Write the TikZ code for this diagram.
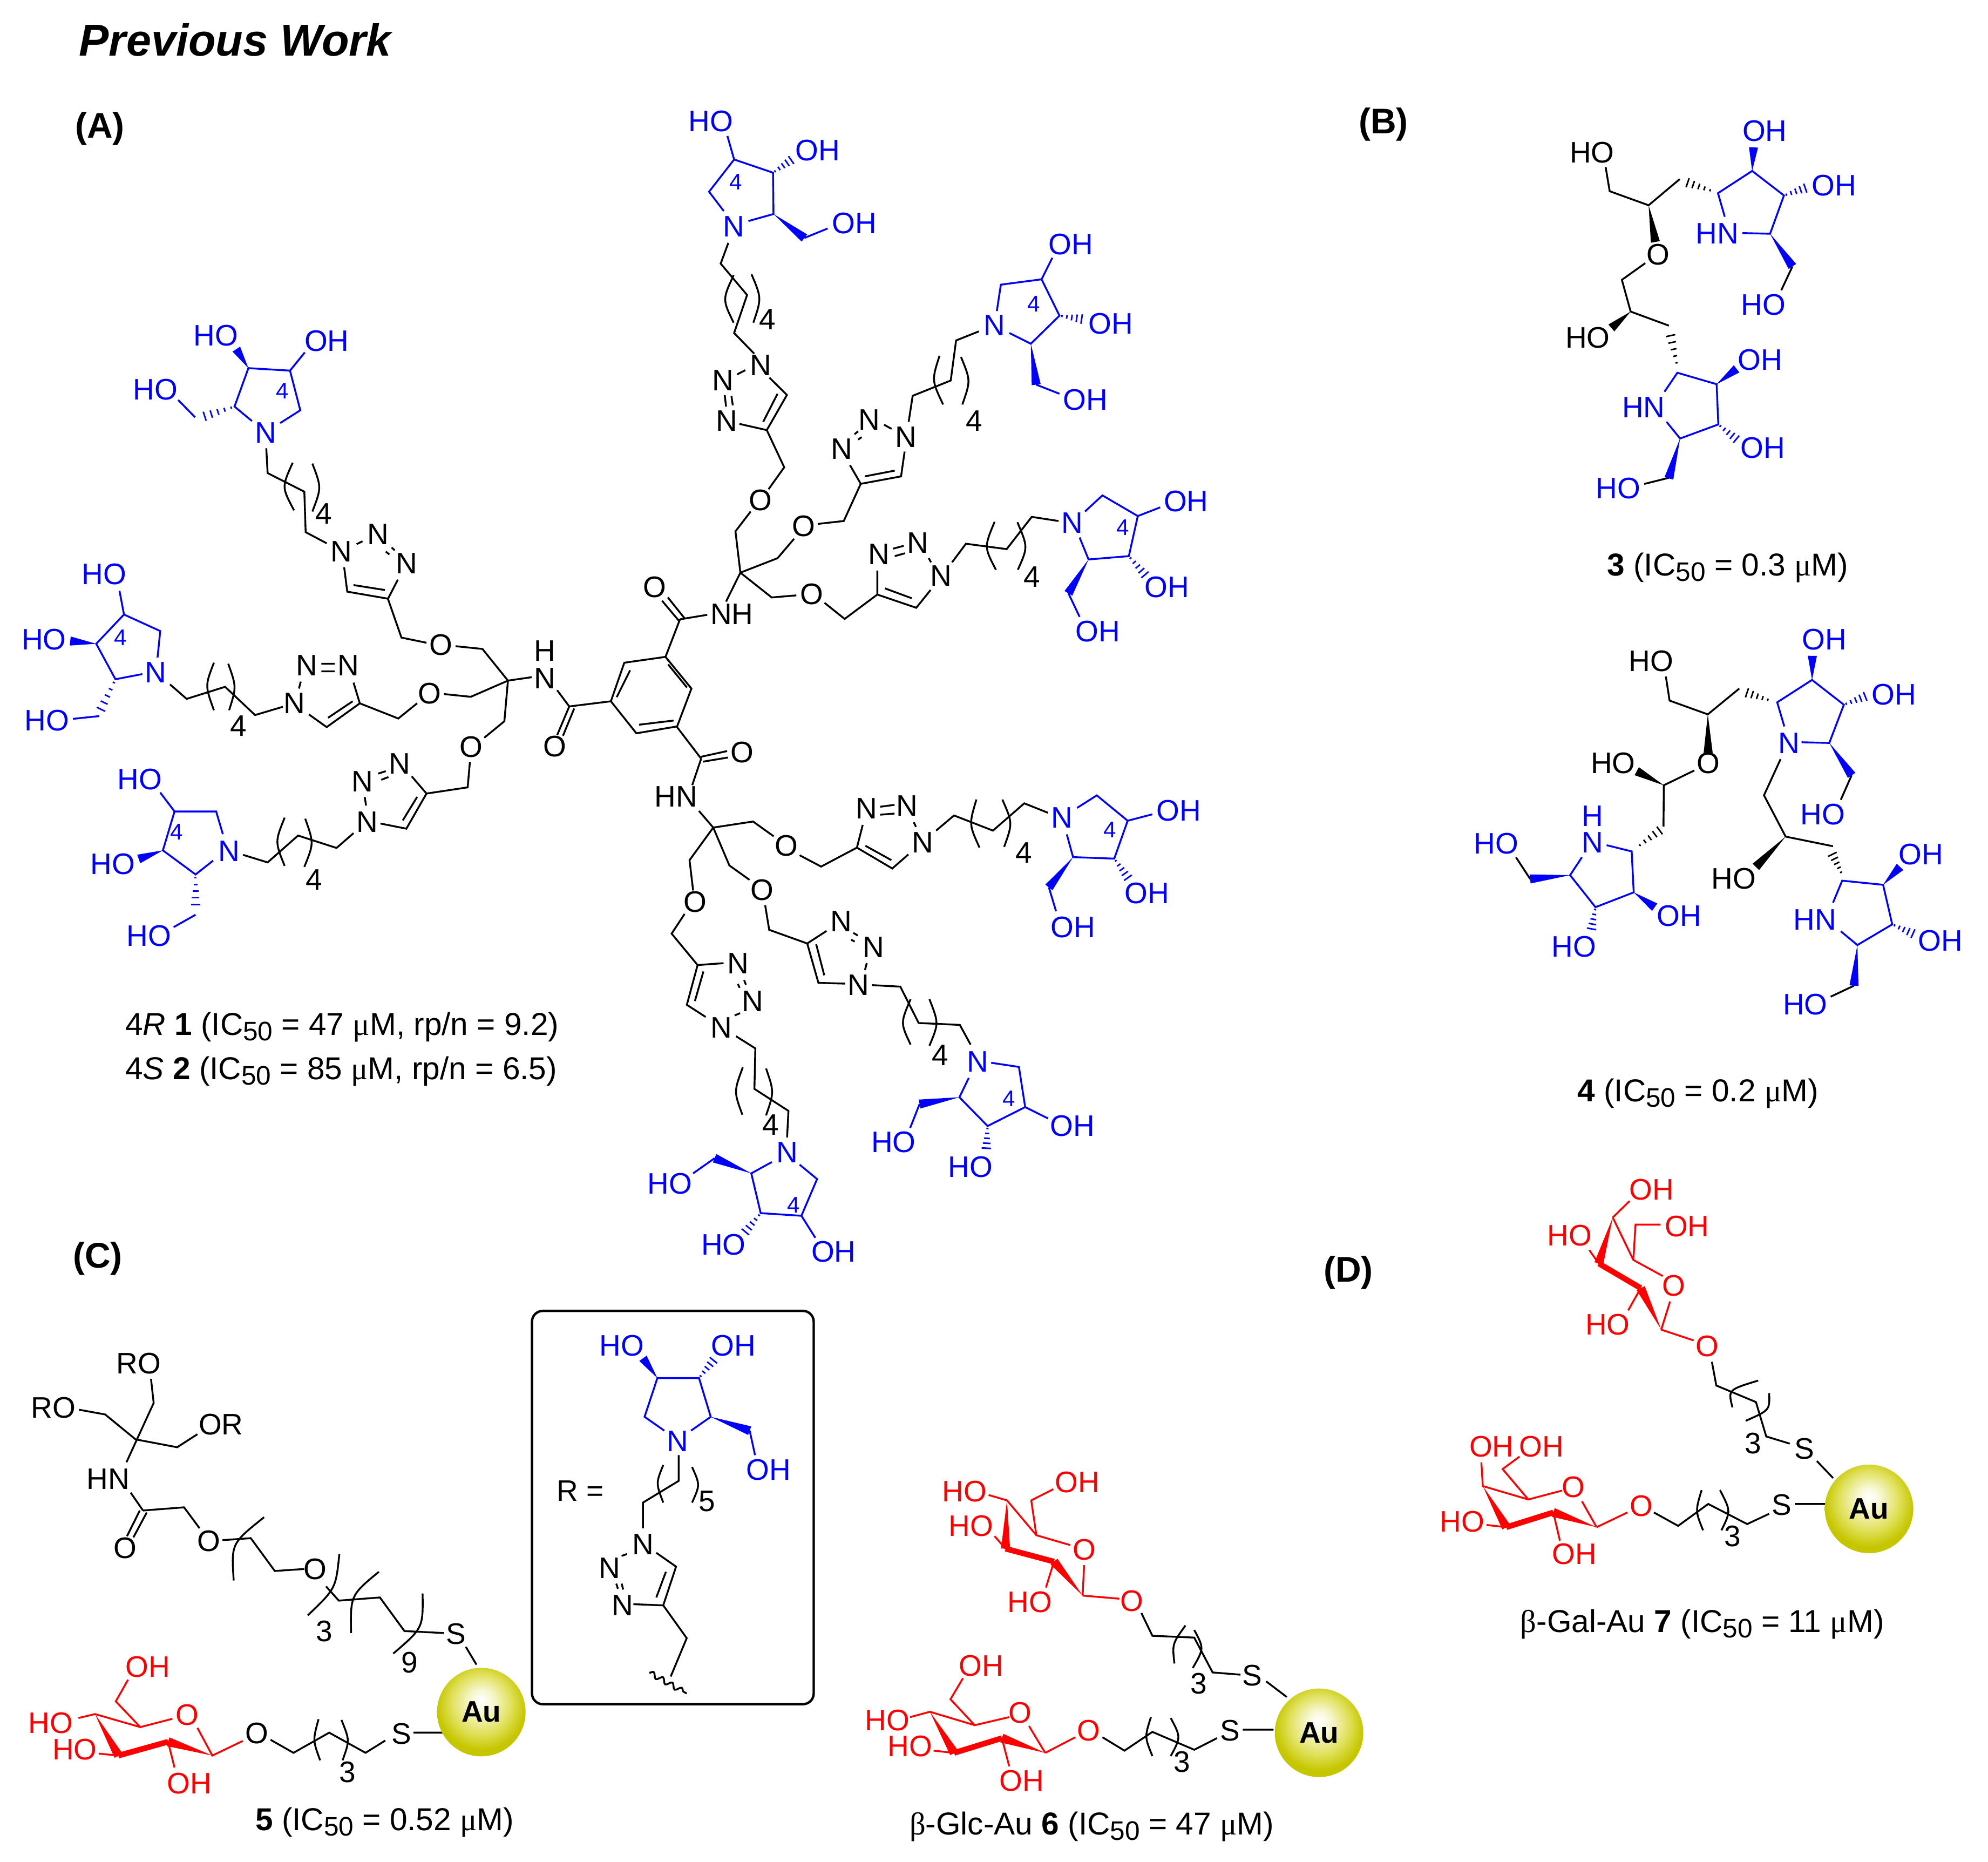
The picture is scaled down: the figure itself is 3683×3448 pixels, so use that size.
\documentclass[tikz,border=0pt]{standalone}
\usepackage{fontspec}
\setmainfont{Liberation Sans}
\newfontfamily\symf{Liberation Serif}
\usetikzlibrary{calc,decorations.pathmorphing}
\definecolor{mblue}{RGB}{0,0,255}
\definecolor{mred}{RGB}{255,0,0}
\definecolor{auO}{RGB}{198,198,0}
\definecolor{auM}{RGB}{224,224,90}
\definecolor{auL}{RGB}{248,248,215}
\pgfdeclareradialshading{aus}{\pgfpoint{0bp}{7bp}}{color(0bp)=(white);color(6bp)=(auL);color(17bp)=(auM);color(25bp)=(auO);color(50bp)=(auO)}
\newcounter{lb}
\newcommand\lab[2]{\stepcounter{lb}\node[atom] (n\arabic{lb}) at #1 {#2};}
\newcommand\sml[2]{\stepcounter{lb}\node[atom,font=\fontsize{10.5pt}{11pt}\selectfont] (n\arabic{lb}) at #1 {#2};}
\newcommand\wdg[2]{\fill ($#2!2.1pt!90:#1$) -- #1 -- ($#2!2.1pt!-90:#1$) -- cycle;}
\newcommand\hsh[2]{\foreach \t in {0.1,0.3,0.5,0.7,0.9}{\pgfmathsetmacro\hl{\t*2.1+0.3}\path #1 -- #2 coordinate[pos=\t] (hp);\draw[line width=.7pt] ($(hp)!\hl pt!90:#2$) -- ($(hp)!\hl pt!-90:#2$);}}
\newcommand\prn[3]{\draw #1 .. controls ($#1!.5!#3!.6!#2$) .. #3;}
\newcommand\prnb[3]{\draw #1 .. controls ($#1!.5!#3!.8!#2$) .. #3;}
\newcommand\icf{IC\raisebox{-.32ex}{\fontsize{12.4pt}{13pt}\selectfont 50}}
\newcommand\um{{\symf μ}M}
\tikzset{
 atom/.style={inner sep=0pt,font=\fontsize{13.75pt}{15pt}\selectfont},
 capt/.style={inner sep=0pt,anchor=base west,font=\fontsize{14.65pt}{16pt}\selectfont},
 hdr/.style={inner sep=0pt,font=\fontsize{16.5pt}{18pt}\selectfont\bfseries},
 aub/.style={circle,inner sep=0pt,minimum size=41pt,shading=aus,font=\fontsize{13.75pt}{15pt}\selectfont\bfseries},
 fat/.style={line width=2.6pt},
 zA/.style={shift={(0,0)},x=.20727pt,y=-.19133pt},
 zB/.style={shift={(1200,150)},x=.20727pt,y=-.19133pt},
 zC/.style={shift={(0,1100)},x=.20727pt,y=-.15944pt},
 zD/.style={shift={(1100,1300)},x=.20727pt,y=-.17538pt},
 zE/.style={shift={(2700,150)},x=.15673pt,y=-.15147pt},
 zF/.style={shift={(2700,1100)},x=.15673pt,y=-.15944pt},
 zG/.style={shift={(0,2300)},x=.24713pt,y=-.18304pt},
 zH/.style={shift={(1550,2150)},x=.34008pt,y=-.20695pt},
}
\begin{document}
\begin{tikzpicture}[x=.25pt,y=-.25pt,line width=.85pt]
\useasboundingbox (0,0) rectangle (3683,3448);
\node[inner sep=0pt,anchor=base west,font=\fontsize{20.7pt}{24pt}\selectfont\bfseries\itshape] (title) at (145,103) {Previous Work};
\node[hdr] (hA) at (185,238) {(A)};
\node[hdr] (hB) at (2563,230) {(B)};
\node[hdr] (hC) at (181,2331) {(C)};
\node[hdr] (hD) at (2498,2357) {(D)};
% ---------- arm 1, upper left
\begin{scope}[zA,mblue]
\lab{(482,812)}{HO}\lab{(730,825)}{OH}\lab{(347,943)}{HO}\sml{(631,946)}{4}\lab{(594,1048)}{N}
\draw (563,1019)--(524,984)--(555,891)--(648,897)--(671,993)--(626,1024);
\wdg{(555,891)}{(528,845)}
\draw (648,897)--(681,853);
\hsh{(524,984)}{(450,1010)}
\draw (436,1010)--(398,968);
\lab{(233,1390)}{HO}
\draw (267,1430)--(277,1487);
\end{scope}
\begin{scope}[zA]
\draw (595,1085)--(598,1145)--(680,1190)--(683,1288)--(730,1315);
\prn{(654,1120)}{(612,1180)}{(657,1235)}\prn{(698,1122)}{(732,1180)}{(698,1238)}
\lab{(724,1243)}{4}\lab{(763,1335)}{N}\lab{(845,1293)}{N}\lab{(909,1363)}{N}
\draw (797,1317)--(810,1310) (875,1325)--(882,1332) (862,1335)--(870,1342);
\draw (889,1403)--(867,1449)--(776,1432)--(769,1373) (860,1428)--(790,1416);
\end{scope}
% ---------- core
\begin{scope}[zC]
\draw (867,15)--(897,127)--(953,142);\lab{(985,148)}{O}
\draw (1018,152)--(1078,160)--(1135,252);
\lab{(1218,165)}{H}\lab{(1218,245)}{N}
\draw (1135,252)--(1188,242) (1245,280)--(1272,327)--(1365,312);
\draw (1272,327)--(1245,410) (1283,333)--(1258,412);\lab{(1240,443)}{O}
\draw (1365,312)--(1395,200)--(1487,183)--(1545,275)--(1513,385)--(1422,405)--cycle;
\draw (1378,300)--(1408,222) (1493,205)--(1535,272) (1505,368)--(1428,380);
% middle left arm
\draw (1135,252)--(1052,299)--(992,291);\lab{(960,289)}{O}
\draw (932,318)--(890,362)--(804,318)--(730,387)--(690,350) (788,312)--(733,360);
\lab{(658,318)}{N}\lab{(685,208)}{N}\lab{(778,208)}{N}
\draw (668,275)--(672,255) (718,203)--(748,203) (718,225)--(748,225) (790,258)--(804,318);
\draw (632,328)--(570,352)--(503,270)--(417,305)--(380,263);
\prn{(478,200)}{(445,265)}{(478,338)}\prn{(510,203)}{(540,270)}{(512,338)}\lab{(533,383)}{4}
% lower left arm
\draw (1135,252)--(1127,370)--(1082,418);\lab{(1053,445)}{O}
\draw (1050,488)--(1045,562)--(953,580)--(908,682)--(850,667) (932,590)--(900,658);
\lab{(820,662)}{N}\lab{(810,545)}{N}\lab{(893,493)}{N}
\draw (815,590)--(818,615) (845,522)--(862,515) (852,540)--(868,532) (920,530)--(953,580);
\draw (790,695)--(752,738)--(666,702)--(598,780)--(543,758);
\prn{(636,650)}{(600,720)}{(636,790)}\prn{(682,653)}{(715,725)}{(680,793)}\lab{(702,830)}{4}
\node[capt] (cap1) at (278,1282) {4\textit{R} \textbf{1} (\icf{} = 47 \um, rp/n = 9.2)};
\node[capt] (cap2) at (278,1410) {4\textit{S} \textbf{2} (\icf{} = 85 \um, rp/n = 6.5)};
\end{scope}
\begin{scope}[zC,mblue]
\lab{(348,228)}{N}\sml{(269,127)}{4}\lab{(98,133)}{HO}\lab{(105,368)}{HO}
\draw (318,233)--(258,248)--(215,145)--(277,60)--(358,108)--(352,185);
\wdg{(215,145)}{(157,137)}
\hsh{(258,248)}{(222,345)}
\draw (222,355)--(163,363);
\lab{(512,748)}{N}\sml{(395,692)}{4}\lab{(312,538)}{HO}\lab{(252,785)}{HO}\lab{(333,993)}{HO}
\draw (498,698)--(483,632)--(390,632)--(364,745)--(437,815)--(476,775) (390,632)--(358,577);
\wdg{(364,745)}{(310,770)}
\hsh{(437,815)}{(437,912)}
\draw (437,932)--(388,968);
\end{scope}
% ---------- upper right arms
\begin{scope}[zB]
\draw (72,1303)--(133,1292) (45,1250)--(82,1300) (32,1258)--(70,1307) (72,1303)--(40,1393);
\lab{(15,1225)}{O}\lab{(188,1290)}{NH}
\draw (207,1190)--(175,1260);
\draw (180,392)--(163,442)--(222,518)--(193,610)--(238,660);
\prn{(192,470)}{(150,530)}{(192,585)}\prn{(232,468)}{(268,525)}{(236,585)}\lab{(267,577)}{4}
\lab{(252,688)}{N}\lab{(168,725)}{N}\lab{(177,823)}{N}
\draw (218,700)--(200,710) (172,760)--(175,788) (187,762)--(190,785);
\draw (205,830)--(266,845)--(311,760)--(272,718) (258,825)--(290,757);
\draw (266,845)--(305,935)--(270,988);\lab{(252,1015)}{O}
\draw (230,1042)--(196,1090)--(207,1190);
\draw (207,1190)--(290,1155)--(327,1108);\lab{(348,1078)}{O}
\draw (380,1072)--(438,1065)--(476,975)--(566,957)--(574,897) (485,957)--(552,943) (476,975)--(452,930);
\lab{(577,862)}{N}\lab{(495,820)}{N}\lab{(433,890)}{N}
\draw (462,855)--(470,848) (470,868)--(478,862) (528,832)--(545,842);
\draw (583,825)--(592,762)--(677,725)--(689,628)--(740,606);
\prn{(652,665)}{(620,725)}{(660,783)}\prn{(700,668)}{(735,725)}{(703,783)}\lab{(729,823)}{4}
\draw (207,1190)--(277,1250)--(332,1245);\lab{(367,1242)}{O}
\draw (395,1263)--(440,1302)--(513,1243)--(600,1275)--(632,1232) (530,1228)--(590,1252) (513,1243)--(513,1185);
\lab{(655,1198)}{N}\lab{(517,1145)}{N}\lab{(603,1118)}{N}
\draw (548,1132)--(572,1125) (552,1150)--(575,1143) (628,1155)--(633,1165);
\draw (680,1165)--(711,1120)--(802,1133)--(858,1055)--(918,1065);
\prn{(775,1067)}{(735,1130)}{(778,1183)}\prn{(826,1068)}{(865,1130)}{(827,1183)}\lab{(859,1200)}{4}
\end{scope}
\begin{scope}[zB,mblue]
\lab{(141,98)}{HO}\lab{(380,168)}{OH}\sml{(197,244)}{4}\lab{(192,352)}{N}\lab{(462,345)}{OH}
\draw (170,315)--(137,268)--(193,190)--(280,222)--(281,322)--(225,339) (193,190)--(178,133);
\hsh{(280,222)}{(325,188)}
\wdg{(281,322)}{(350,380)}
\draw (350,380)--(402,357);
\lab{(775,592)}{N}\lab{(945,395)}{OH}\sml{(862,540)}{4}\lab{(1035,587)}{OH}\lab{(978,772)}{OH}
\draw (780,557)--(789,493)--(880,480)--(920,568)--(856,636)--(808,610) (880,480)--(904,428);
\hsh{(920,568)}{(975,577)}
\wdg{(856,636)}{(868,735)}
\draw (868,735)--(920,757);
\lab{(948,1070)}{N}\lab{(1203,1017)}{OH}\sml{(1061,1080)}{4}\lab{(1160,1225)}{OH}\lab{(1006,1332)}{OH}
\draw (977,1042)--(1016,1003)--(1095,1053)--(1075,1150)--(985,1158)--(965,1105) (1095,1053)--(1145,1032);
\hsh{(1075,1150)}{(1115,1200)}
\wdg{(985,1158)}{(940,1240)}
\draw (940,1240)--(965,1297);
\end{scope}
% ---------- lower right arms
\begin{scope}[zD]
\draw (185,65)--(240,150) (240,145)--(298,130) (244,158)--(300,147) (240,150)--(220,220) (235,288)--(267,332);
\lab{(331,133)}{O}\lab{(184,250)}{HN}
\draw (267,332)--(356,316)--(402,355);\lab{(430,380)}{O}
\draw (460,405)--(508,435)--(588,385)--(667,440)--(703,403) (607,380)--(665,418) (588,385)--(601,325);
\lab{(735,372)}{N}\lab{(610,282)}{N}\lab{(700,275)}{N}
\draw (640,277)--(672,272) (640,298)--(672,295) (715,318)--(720,330);
\draw (765,340)--(805,300)--(892,340)--(962,268)--(1015,293);
\prn{(855,258)}{(825,325)}{(862,385)}\prn{(913,258)}{(950,320)}{(917,383)}\lab{(961,398)}{4}
\draw (267,332)--(303,432)--(348,470);\lab{(376,497)}{O}
\draw (383,537)--(392,602)--(477,638)--(502,742)--(562,744) (497,640)--(515,722) (477,638)--(520,605);
\lab{(592,748)}{N}\lab{(553,580)}{N}\lab{(625,648)}{N}
\draw (580,610)--(590,617) (575,628)--(583,633) (610,690)--(606,708);
\draw (622,748)--(685,752)--(726,848)--(818,853)--(842,905);
\prn{(708,785)}{(670,850)}{(708,905)}\prn{(750,785)}{(785,850)}{(750,908)}\lab{(774,933)}{4}
\draw (267,332)--(214,418)--(222,498);\lab{(227,528)}{O}
\draw (203,560)--(174,612)--(232,695)--(290,690) (232,695)--(208,800)--(250,832) (245,712)--(226,790);
\lab{(322,690)}{N}\lab{(355,790)}{N}\lab{(285,860)}{N}
\draw (322,745)--(326,755) (336,735)--(340,747) (327,822)--(315,828);
\draw (318,883)--(361,915)--(359,1022)--(435,1080)--(432,1150);
\prn{(333,965)}{(300,1030)}{(332,1090)}\prn{(385,968)}{(415,1030)}{(385,1092)}\lab{(395,1117)}{4}
\end{scope}
\begin{scope}[zD,mblue]
\lab{(1046,306)}{N}\lab{(1307,288)}{OH}\sml{(1153,338)}{4}\lab{(1236,505)}{OH}\lab{(1071,595)}{OH}
\draw (1080,280)--(1124,247)--(1193,314)--(1163,414)--(1071,410)--(1057,350) (1193,314)--(1248,297);
\hsh{(1163,414)}{(1197,470)}
\wdg{(1071,410)}{(1017,490)}
\draw (1017,490)--(1033,553);
\lab{(858,950)}{N}\lab{(1070,1120)}{OH}\sml{(928,1048)}{4}\lab{(842,1228)}{HO}\lab{(670,1163)}{HO}
\draw (888,953)--(950,964)--(964,1070)--(880,1120)--(817,1044)--(838,993) (964,1070)--(1015,1100);
\hsh{(880,1120)}{(877,1185)}
\wdg{(817,1044)}{(728,1062)}
\draw (728,1062)--(707,1125);
\lab{(432,1190)}{N}\lab{(536,1452)}{OH}\sml{(447,1328)}{4}\lab{(290,1433)}{HO}\lab{(170,1272)}{HO}
\draw (398,1215)--(352,1245)--(373,1350)--(464,1357)--(499,1260)--(460,1222) (464,1357)--(495,1415);
\hsh{(373,1350)}{(335,1405)}
\wdg{(352,1245)}{(270,1205)}
\draw (270,1205)--(222,1245);
\end{scope}
% ---------- compound 3
\begin{scope}[zE]
\lab{(398,218)}{HO}\lab{(593,530)}{O}\lab{(385,785)}{HO}
\draw (438,263)--(450,337)--(565,380)--(657,300);
\wdg{(565,380)}{(585,492)}
\draw (555,557)--(486,608)--(512,705)--(625,748);
\wdg{(512,705)}{(455,755)}
\hsh{(755,337)}{(672,308)}
\hsh{(650,872)}{(628,768)}
\draw (990,567)--(957,640) (625,1213)--(552,1232);
\node[capt] (cap3) at (440,1512) {\textbf{3} (\icf{} = 0.3 \um)};
\end{scope}
\begin{scope}[zE,mblue]
\lab{(908,152)}{OH}\lab{(1113,320)}{OH}\lab{(768,467)}{HN}\lab{(904,685)}{HO}
\lab{(895,852)}{OH}\lab{(550,998)}{HN}\lab{(903,1122)}{OH}\lab{(475,1245)}{HO}
\draw (790,415)--(770,343)--(871,275)--(965,350)--(924,467)--(842,465);
\wdg{(871,275)}{(875,203)}
\hsh{(965,350)}{(1035,325)}
\wdg{(924,467)}{(990,567)}
\draw (612,950)--(650,892)--(766,927)--(771,1050)--(658,1093)--(618,1042);
\wdg{(766,927)}{(825,880)}
\hsh{(771,1050)}{(830,1100)}
\wdg{(658,1093)}{(625,1215)}
\end{scope}
% ---------- compound 4
\begin{scope}[zF]
\lab{(573,195)}{HO}\lab{(741,492)}{O}\lab{(460,492)}{HO}\lab{(817,827)}{HO}
\draw (616,240)--(627,310)--(740,350)--(833,275);
\wdg{(740,350)}{(741,462)}
\draw (700,513)--(610,556)--(609,676);
\wdg{(610,556)}{(530,515)}
\hsh{(925,310)}{(848,285)}
\hsh{(532,735)}{(605,682)}
\draw (1165,527)--(1133,598) (955,480)--(906,585)--(970,705)--(1110,733);
\wdg{(970,705)}{(882,793)}
\hsh{(1137,815)}{(1105,750)}
\draw (1172,1138)--(1103,1170) (215,828)--(173,765);
\node[capt] (cap4) at (352,1475) {\textbf{4} (\icf{} = 0.2 \um)};
\end{scope}
\begin{scope}[zF,mblue]
\lab{(1085,133)}{OH}\lab{(1290,293)}{OH}\lab{(980,433)}{N}\lab{(1080,640)}{HO}\lab{(400,645)}{H}\lab{(400,722)}{N}
\lab{(115,725)}{HO}\lab{(655,935)}{OH}\lab{(344,1025)}{HO}\lab{(1370,757)}{OH}\lab{(1057,947)}{HN}\lab{(1428,1007)}{OH}\lab{(1028,1192)}{HO}
\draw (966,385)--(945,315)--(1048,250)--(1142,322)--(1099,433)--(1017,431);
\wdg{(1048,250)}{(1049,180)}
\hsh{(1142,322)}{(1212,295)}
\wdg{(1099,433)}{(1165,527)}
\draw (1110,897)--(1137,833)--(1258,845)--(1285,960)--(1182,1020)--(1133,980);
\wdg{(1258,845)}{(1308,793)}
\hsh{(1285,960)}{(1353,990)}
\wdg{(1182,1020)}{(1172,1138)}
\draw (441,730)--(515,748)--(521,867)--(408,910)--(333,817)--(368,765);
\wdg{(521,867)}{(583,910)}
\hsh{(408,910)}{(395,980)}
\wdg{(333,817)}{(215,828)}
\end{scope}
% ---------- compound 5 and inset
\begin{scope}[zG]
\lab{(260,308)}{RO}\lab{(100,420)}{RO}\lab{(414,463)}{OR}\lab{(203,600)}{HN}\lab{(235,775)}{O}\lab{(391,757)}{O}\lab{(591,828)}{O}
\lab{(608,985)}{3}\lab{(768,1065)}{9}\lab{(855,992)}{S}
\draw (283,347)--(288,408)--(237,558) (148,425)--(197,437)--(254,500)--(332,520)--(370,487);
\draw (245,635)--(268,680) (262,680)--(238,745) (275,685)--(250,748) (268,680)--(345,672)--(374,725);
\draw (417,755)--(470,750)--(515,833)--(570,828) (611,872)--(635,908)--(712,900)--(758,985)--(832,990) (873,1025)--(893,1070);
\prnb{(495,697)}{(425,760)}{(438,857)}\prnb{(636,790)}{(635,880)}{(577,945)}
\prnb{(710,835)}{(650,890)}{(658,990)}\prnb{(792,890)}{(800,980)}{(737,1042)}
\lab{(752,1245)}{S}\lab{(481,1243)}{O}\lab{(651,1342)}{3}
\draw (775,1242)--(833,1242) (722,1262)--(685,1293)--(617,1242)--(550,1293)--(507,1260);
\prn{(597,1208)}{(578,1262)}{(600,1312)}\prn{(640,1210)}{(665,1262)}{(642,1312)}
\node[aub] (au1) at (902,1190) {Au};
\node[capt] (cap5) at (477,1490) {\textbf{5} (\icf{} = 0.52 \um)};
\draw[line width=1.1pt,rounded corners=5pt] (997,175) rectangle (1525,1170);
\node[atom] (rlab) at (1088,630) {R =};
\lab{(1325,657)}{5}\lab{(1205,765)}{N}\lab{(1142,825)}{N}\lab{(1167,920)}{N}
\draw (1272,540)--(1272,605)--(1205,660)--(1205,725);
\prn{(1243,565)}{(1220,610)}{(1243,660)}\prn{(1297,570)}{(1322,615)}{(1297,660)}
\draw (1230,787)--(1267,822)--(1243,920)--(1187,917) (1248,835)--(1230,900) (1165,795)--(1175,790) (1155,865)--(1158,878) (1165,865)--(1168,880);
\draw (1243,920)--(1287,1003)--(1257,1100);
\draw[decorate,decoration={snake,amplitude=1.2pt,segment length=5pt}] (1217,1090)--(1287,1143);
\end{scope}
\begin{scope}[zG,mblue]
\lab{(1165,263)}{HO}\lab{(1375,263)}{OH}\lab{(1270,505)}{N}\lab{(1440,577)}{OH}
\draw (1245,478)--(1208,443)--(1232,345)--(1310,345)--(1332,443)--(1295,478);
\wdg{(1232,345)}{(1205,295)}
\hsh{(1310,345)}{(1340,295)}
\wdg{(1332,443)}{(1405,478)}
\draw (1405,478)--(1415,540);
\end{scope}
\begin{scope}[zG,mred]
\lab{(351,1197)}{O}\lab{(277,1075)}{OH}\lab{(95,1218)}{HO}\lab{(140,1285)}{HO}\lab{(355,1370)}{OH}
\draw (323,1207)--(263,1228)--(217,1163)--(240,1108) (263,1228)--(178,1195)--(147,1205) (370,1230)--(398,1300)--(455,1263) (315,1265)--(327,1330) (222,1300)--(185,1295);
\wdg{(178,1195)}{(222,1300)}
\draw[fat] (222,1300)--(315,1265);
\wdg{(398,1300)}{(315,1265)}
\end{scope}
% ---------- compounds 6 and 7
\begin{scope}[zH]
\lab{(493,1170)}{3}\lab{(566,1152)}{S}\lab{(536,1275)}{S}\lab{(470,1345)}{3}
\draw (415,1012)--(430,1063)--(487,1067)--(512,1145)--(550,1150) (585,1165)--(613,1200);
\prn{(475,1040)}{(450,1080)}{(460,1125)}\prn{(487,1050)}{(510,1090)}{(485,1135)}
\draw (362,1290)--(392,1320)--(430,1278)--(487,1318)--(518,1292) (553,1273)--(595,1273);
\prn{(428,1245)}{(413,1290)}{(430,1332)}\prn{(455,1247)}{(478,1290)}{(455,1332)}
\node[aub] (au2) at (657,1280) {Au};
\node[capt] (cap6) at (98,1508) {{\symf β}-Glc-Au \textbf{6} (\icf{} = 47 \um)};
\lab{(1318,645)}{S}\lab{(1248,632)}{3}\lab{(1287,770)}{S}\lab{(1220,840)}{3}
\draw (1192,450)--(1198,503)--(1252,540)--(1266,617)--(1298,633) (1335,672)--(1357,710);
\prnb{(1255,492)}{(1208,510)}{(1220,552)}\prnb{(1270,520)}{(1275,560)}{(1238,582)}
\draw (1113,787)--(1146,817)--(1187,768)--(1240,813)--(1270,790) (1305,768)--(1347,768);
\prn{(1178,737)}{(1163,785)}{(1180,827)}\prn{(1203,737)}{(1227,785)}{(1205,827)}
\node[aub] (au3) at (1406,779) {Au};
\node[capt] (cap7) at (930,1055) {{\symf β}-Gal-Au \textbf{7} (\icf{} = 11 \um)};
\end{scope}
\begin{scope}[zH,mred]
\lab{(174,740)}{HO}\lab{(328,720)}{OH}\lab{(183,817)}{HO}\lab{(337,870)}{O}\lab{(263,987)}{HO}\lab{(402,985)}{O}
\draw (207,748)--(232,760)--(272,838)--(318,860) (272,838)--(265,760)--(295,735) (335,973)--(337,905) (335,973)--(385,980) (296,897)--(285,955) (230,868)--(215,840);
\wdg{(232,760)}{(230,868)}
\draw[fat] (230,868)--(296,897);
\wdg{(335,973)}{(296,897)}
\lab{(197,1130)}{OH}\lab{(69,1252)}{HO}\lab{(250,1235)}{O}\lab{(100,1310)}{HO}\lab{(252,1387)}{OH}\lab{(343,1275)}{O}
\draw (172,1158)--(155,1205)--(188,1263)--(235,1245) (188,1263)--(127,1233)--(100,1245) (284,1325)--(262,1265) (225,1292)--(235,1355) (284,1325)--(325,1290) (160,1325)--(132,1320);
\wdg{(127,1233)}{(160,1325)}
\draw[fat] (160,1325)--(225,1292);
\wdg{(284,1325)}{(225,1292)}
\lab{(1110,65)}{OH}\lab{(1158,147)}{OH}\lab{(998,167)}{HO}\lab{(1140,280)}{O}\lab{(1050,367)}{HO}\lab{(1186,415)}{O}
\draw (1057,127)--(1080,90) (1057,127)--(1085,222)--(1125,258) (1085,222)--(1088,143)--(1122,143) (1123,378)--(1135,315) (1123,378)--(1167,402) (1095,285)--(1078,335) (1038,230)--(1025,200);
\wdg{(1057,127)}{(1038,230)}
\draw[fat] (1038,230)--(1095,285);
\wdg{(1123,378)}{(1095,285)}
\lab{(892,640)}{OH}\lab{(960,640)}{OH}\lab{(1003,730)}{O}\lab{(852,807)}{HO}\lab{(1005,880)}{OH}\lab{(1096,772)}{O}
\draw (878,675)--(880,728)--(942,758)--(988,738) (942,758)--(907,690)--(930,662) (1035,820)--(1015,762) (976,787)--(985,850) (1035,820)--(1077,787) (912,820)--(885,815);
\wdg{(880,728)}{(912,820)}
\draw[fat] (912,820)--(976,787);
\wdg{(1035,820)}{(976,787)}
\end{scope}
\end{tikzpicture}
\end{document}
